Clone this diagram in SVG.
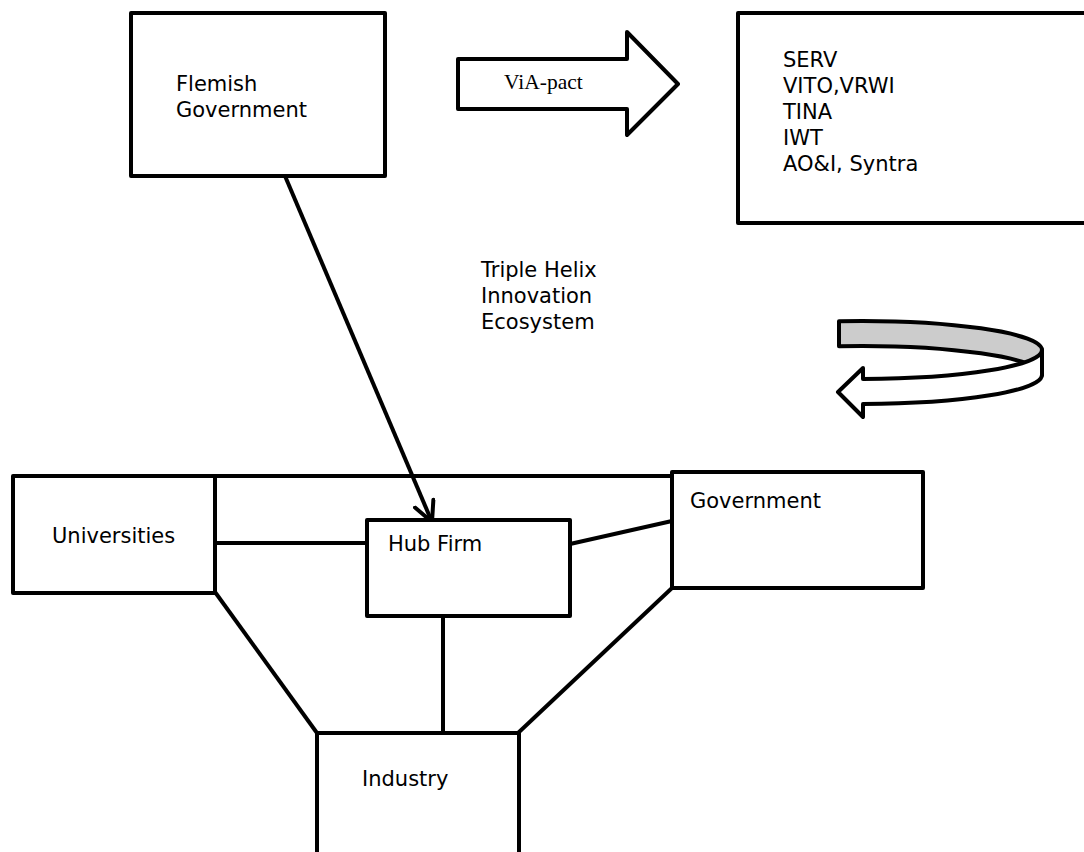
<svg xmlns="http://www.w3.org/2000/svg" width="1084" height="852" viewBox="0 0 1084 852">
  <style>
    .box { fill: #ffffff; stroke: #000000; stroke-width: 4; stroke-linejoin: round; }
    .link { fill: none; stroke: #000000; stroke-width: 4; stroke-linecap: butt; }
    .lbl { font-family: "DejaVu Sans", Verdana, sans-serif; font-size: 21px; fill: #000000; }
    .serif { font-family: "Liberation Serif", "Times New Roman", serif; font-size: 21.5px; fill: #000000; }
  </style>
  <defs>
    <marker id="openArrow" viewBox="0 0 12 12" refX="11" refY="6" markerWidth="6" markerHeight="6" markerUnits="strokeWidth" orient="auto">
      <path d="M1,1 L11,6 L1,11" fill="none" stroke="#000000" stroke-width="2" stroke-linejoin="round" stroke-linecap="round"/>
    </marker>
  </defs>

  <rect width="1084" height="852" fill="#ffffff"/>

  <!-- connectors -->
  <g id="connectors">
    <line class="link" x1="285" y1="176" x2="432" y2="522" marker-end="url(#openArrow)"/>
    <line class="link" x1="215" y1="476" x2="672" y2="476"/>
    <line class="link" x1="215" y1="543" x2="367" y2="543"/>
    <line class="link" x1="570" y1="544" x2="672" y2="521"/>
    <line class="link" x1="443" y1="616" x2="443" y2="733"/>
    <line class="link" x1="215" y1="592" x2="317" y2="733"/>
    <line class="link" x1="672" y1="588" x2="518" y2="733"/>
  </g>

  <!-- Flemish Government -->
  <g id="flemish-government">
    <rect class="box" x="131" y="13" width="254" height="163"/>
    <text class="lbl" x="176" y="91">Flemish</text>
    <text class="lbl" x="176" y="117">Government</text>
  </g>

  <!-- ViA-pact block arrow -->
  <g id="via-pact">
    <path class="box" d="M458,59 L627,59 L627,32 L678,84 L627,135 L627,109 L458,109 Z"/>
    <text class="serif" x="504" y="89">ViA-pact</text>
  </g>

  <!-- agencies list -->
  <g id="agencies">
    <rect class="box" x="738" y="13" width="360" height="210"/>
    <text class="lbl" x="783" y="67">SERV</text>
    <text class="lbl" x="783" y="93">VITO,VRWI</text>
    <text class="lbl" x="783" y="119">TINA</text>
    <text class="lbl" x="783" y="145">IWT</text>
    <text class="lbl" x="783" y="171">AO&amp;I, Syntra</text>
  </g>

  <!-- title -->
  <g id="title">
    <text class="lbl" x="481" y="277">Triple Helix</text>
    <text class="lbl" x="481" y="303">Innovation</text>
    <text class="lbl" x="481" y="329">Ecosystem</text>
  </g>

  <!-- circular ribbon arrow: grey inner back half, white front half with head -->
  <g id="cycle-arrow">
    <path d="M839,321.2 A182 29 0 0 1 1042,350 L1042,375 A182 29 0 0 0 839,346.2 Z" fill="#cccccc" stroke="#000000" stroke-width="4" stroke-linejoin="round"/>
    <path d="M1042,350 A182 29 0 0 1 863,379 L863,368 L838,392 L863,417 L863,404 A182 29 0 0 0 1042,375 Z" fill="#ffffff" stroke="#000000" stroke-width="4" stroke-linejoin="round"/>
  </g>

  <!-- Universities -->
  <g id="universities">
    <rect class="box" x="13" y="476" width="202" height="117"/>
    <text class="lbl" x="52" y="543">Universities</text>
  </g>

  <!-- Hub Firm -->
  <g id="hub-firm">
    <rect class="box" x="367" y="520" width="203" height="96"/>
    <text class="lbl" x="388" y="551">Hub Firm</text>
  </g>

  <!-- Government -->
  <g id="government">
    <rect class="box" x="672" y="472" width="251" height="116"/>
    <text class="lbl" x="690" y="508">Government</text>
  </g>

  <!-- Industry -->
  <g id="industry">
    <rect class="box" x="317" y="733" width="202" height="140"/>
    <text class="lbl" x="362" y="786">Industry</text>
  </g>
</svg>
